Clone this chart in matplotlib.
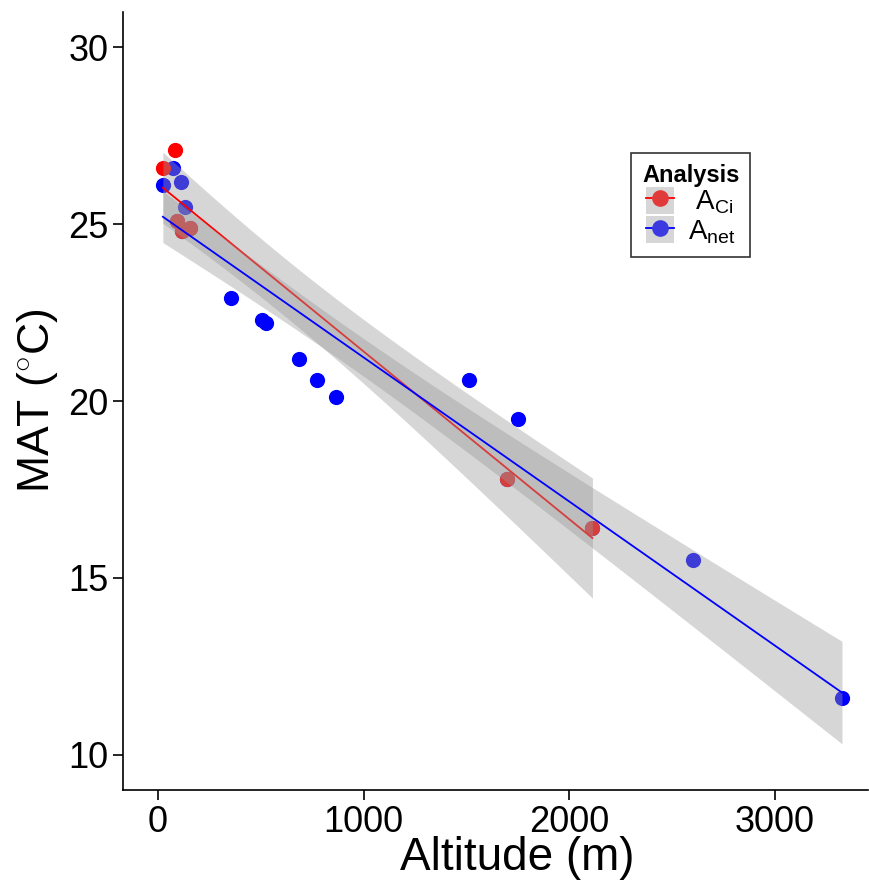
import numpy as np
import matplotlib.pyplot as plt
from matplotlib.patches import Patch
from matplotlib.lines import Line2D

plt.rcParams['font.family'] = ['Liberation Sans', 'DejaVu Sans']
plt.rcParams['mathtext.fontset'] = 'custom'
plt.rcParams['mathtext.rm'] = 'Liberation Sans'
plt.rcParams['mathtext.it'] = 'Liberation Sans'

# ---- data ----
aci_alt = [24, 83, 92, 117, 155, 1699, 2112]
aci_mat = [26.6, 27.1, 25.1, 24.8, 24.9, 17.8, 16.4]

# A_net sites (several A_Ci sites are also measured for A_net and sit under the red dots)
anet_alt = [24, 73, 112, 131, 354, 505, 524, 684, 772, 864, 1510, 1752, 2602, 3325,
            92, 117, 155, 1699, 2112]
anet_mat = [26.1, 26.6, 26.2, 25.5, 22.9, 22.3, 22.2, 21.2, 20.6, 20.1, 20.6, 19.5, 15.5, 11.6,
            25.1, 24.8, 24.9, 17.8, 16.4]

# 97.5% t quantiles for df = n - 2
t_crit = {5: 2.571, 12: 2.179, 17: 2.110, 19: 2.093}


def fit_band(x, y):
    x = np.asarray(x, float); y = np.asarray(y, float)
    n = len(x)
    b, a = np.polyfit(x, y, 1)
    resid = y - (a + b * x)
    s = np.sqrt(np.sum(resid ** 2) / (n - 2))
    sxx = np.sum((x - x.mean()) ** 2)
    xs = np.linspace(x.min(), x.max(), 80)
    yh = a + b * xs
    se = s * np.sqrt(1 / n + (xs - x.mean()) ** 2 / sxx)
    t = t_crit[n - 2]
    return xs, yh, yh - t * se, yh + t * se


fig = plt.figure(figsize=(8.69, 8.8), dpi=100)
ax = fig.add_axes([0.1415, 0.1023, 0.857, 0.884])

ax.scatter(anet_alt, anet_mat, s=120, color='#0000FF', lw=0, zorder=1)
ax.scatter(aci_alt, aci_mat, s=120, color='#FF0000', lw=0, zorder=1)

for x, y, col in [(aci_alt, aci_mat, '#FF0000'), (anet_alt, anet_mat, '#0000FF')]:
    xs, yh, lo, hi = fit_band(x, y)
    ax.fill_between(xs, lo, hi, color='#999999', alpha=0.4, lw=0, zorder=2)
    ax.plot(xs, yh, color=col, lw=1.3, zorder=2)

ax.set_xlim(-170, 3450)
ax.set_ylim(9, 31)
ax.set_xticks([0, 1000, 2000, 3000])
ax.set_yticks([10, 15, 20, 25, 30])
ax.tick_params(labelsize=26, length=7, width=1.2, colors='black')
for sp in ['top', 'right']:
    ax.spines[sp].set_visible(False)
for sp in ['left', 'bottom']:
    ax.spines[sp].set_linewidth(1.2)

ax.set_xlabel('Altitude (m)', fontsize=33)
ax.xaxis.set_label_coords(0.529, -0.103)
ax.xaxis.label.set_va('baseline')
ax.set_ylabel('MAT ($^{\\circ}$C)', fontsize=32, labelpad=6)

key = '#d6d6d6'
handles = [
    (Patch(facecolor=key, edgecolor='none'),
     Line2D([], [], color='#FF0000', lw=1.3, marker='o', ms=12, markerfacecolor='#e03a3a', markeredgewidth=0)),
    (Patch(facecolor=key, edgecolor='none'),
     Line2D([], [], color='#0000FF', lw=1.3, marker='o', ms=12, markerfacecolor='#3a3ae0', markeredgewidth=0)),
]
labels = [' $\\mathrm{A_{Ci}}$', '$\\mathrm{A_{net}}$']
leg = ax.legend(handles, labels, title='Analysis', loc='upper left',
                bbox_to_anchor=(0.682, 0.819), borderaxespad=0, fontsize=20,
                frameon=True, fancybox=False, edgecolor='black',
                handlelength=1.0, handleheight=1.1, labelspacing=0.0,
                borderpad=0.4, handletextpad=0.5,
                title_fontproperties={'weight': 'bold', 'size': 17})
leg.get_frame().set_linewidth(1.2)

fig.savefig('out.png', dpi=100)
